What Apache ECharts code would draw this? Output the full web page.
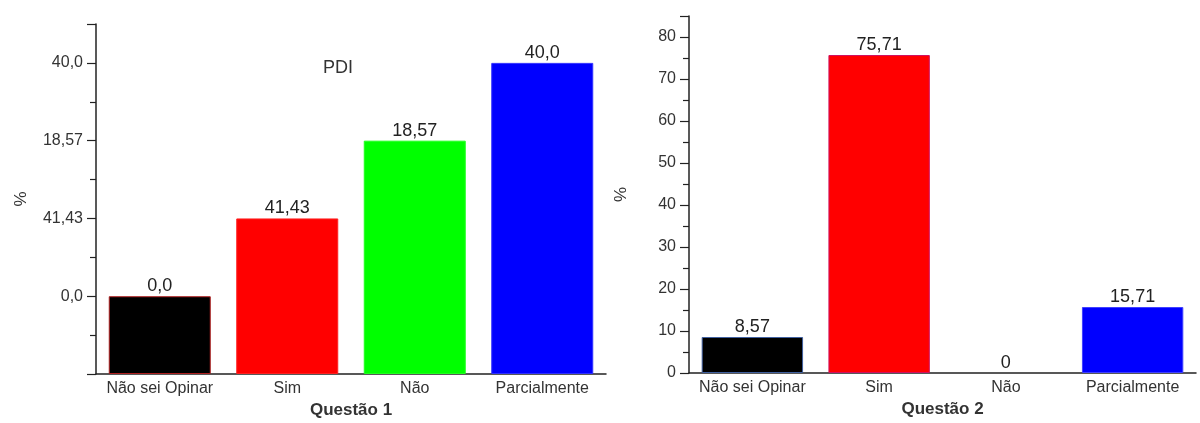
<!DOCTYPE html>
<html>
<head>
<meta charset="utf-8">
<script src="https://cdn.jsdelivr.net/npm/echarts@6/dist/echarts.min.js"></script>
<style>
  html, body { margin: 0; padding: 0; background: #fff; }
  #main { width: 1200px; height: 423px; }
</style>
</head>
<body>
<div id="main"></div>
<script>
// categorias comuns às duas questões
const categories = ["Não sei Opinar", "Sim", "Não", "Parcialmente"];

// Questão 1 (PDI): o gráfico original usa eixo ordinal, barras em degraus
const q1Values = [0.0, 41.43, 18.57, 40.0];
const q1Levels = [1, 2, 3, 4];
const q1TickLabels = ["0,0", "41,43", "18,57", "40,0"];
const q1BarLabels = ["0,0", "41,43", "18,57", "40,0"];

// Questão 2
const q2Values = [8.57, 75.71, 0, 15.71];
const q2BarLabels = ["8,57", "75,71", "0", "15,71"];

const barColors = ["#000000", "#ff0000", "#00ff00", "#0000ff"];
const barBorders = ["#b02020", "#ff2020", "#20ff20", "#3030ff"];
const q2Borders = ["#4060a0", "#d01060", "#000000", "#4040ff"];

const font = "Liberation Sans, Arial, sans-serif";

function catAxis(gridIndex, name) {
  return {
    type: "category",
    gridIndex: gridIndex,
    data: categories,
    name: name,
    nameLocation: "middle",
    nameGap: 28,
    nameTextStyle: { fontFamily: font, fontSize: 17, fontWeight: "bold", color: "#333" },
    axisLine: { lineStyle: { color: "#222", width: 1.5 } },
    axisTick: { alignWithLabel: true, length: 6, lineStyle: { color: "#222", width: 1.5 } },
    axisLabel: { interval: 0, fontFamily: font, fontSize: 16, color: "#333", margin: 7 }
  };
}

function valAxis(gridIndex, opts, formatter) {
  return Object.assign({
    type: "value",
    gridIndex: gridIndex,
    name: "%",
    nameLocation: "middle",
    nameRotate: 90,
    nameTextStyle: { fontFamily: font, fontSize: 17, color: "#333" },
    splitLine: { show: false },
    axisLine: { show: true, lineStyle: { color: "#222", width: 1.5 } },
    axisTick: { show: true, length: 9, lineStyle: { color: "#222", width: 1.2 } },
    minorTick: { show: true, splitNumber: 2, length: 6, lineStyle: { color: "#222", width: 1.2 } },
    axisLabel: { fontFamily: font, fontSize: 16, color: "#333", margin: 13, formatter: formatter }
  }, opts);
}

const chart = echarts.init(document.getElementById("main"));

chart.setOption({
  animation: false,
  title: {
    text: "PDI",
    left: 318,
    top: 54,
    textStyle: { fontFamily: font, fontSize: 18, fontWeight: "normal", color: "#333" }
  },
  grid: [
    { left: 96, right: 594, top: 24, bottom: 49, outerBoundsMode: "none" },
    { left: 689, right: 4, top: 16, bottom: 50, outerBoundsMode: "none" }
  ],
  xAxis: [catAxis(0, "Questão 1"), catAxis(1, "Questão 2")],
  yAxis: [
    valAxis(0, { min: 0, max: 4.5, interval: 1, nameGap: 66 }, function (v) {
      const i = q1Levels.indexOf(v);
      return i >= 0 ? q1TickLabels[i] : "";
    }),
    valAxis(1, { min: 0, max: 85, interval: 10, nameGap: 59 }, function (v) {
      return v % 10 === 0 ? String(v) : "";
    })
  ],
  series: [
    {
      type: "bar",
      xAxisIndex: 0,
      yAxisIndex: 0,
      barWidth: "80%",
      data: q1Levels.map(function (lv, i) {
        return {
          value: lv,
          realValue: q1Values[i],
          itemStyle: { color: barColors[i], borderColor: barBorders[i], borderWidth: 1 }
        };
      }),
      label: {
        show: true,
        position: "top",
        distance: 1,
        fontFamily: font,
        fontSize: 18,
        color: "#222",
        formatter: function (p) { return q1BarLabels[p.dataIndex]; }
      }
    },
    {
      type: "bar",
      xAxisIndex: 1,
      yAxisIndex: 1,
      barWidth: "80%",
      data: q2Values.map(function (v, i) {
        return {
          value: v,
          itemStyle: { color: barColors[i], borderColor: q2Borders[i], borderWidth: v === 0 ? 0 : 1 }
        };
      }),
      label: {
        show: true,
        position: "top",
        distance: 1,
        fontFamily: font,
        fontSize: 18,
        color: "#222",
        formatter: function (p) { return q2BarLabels[p.dataIndex]; }
      }
    }
  ]
});
</script>
</body>
</html>
